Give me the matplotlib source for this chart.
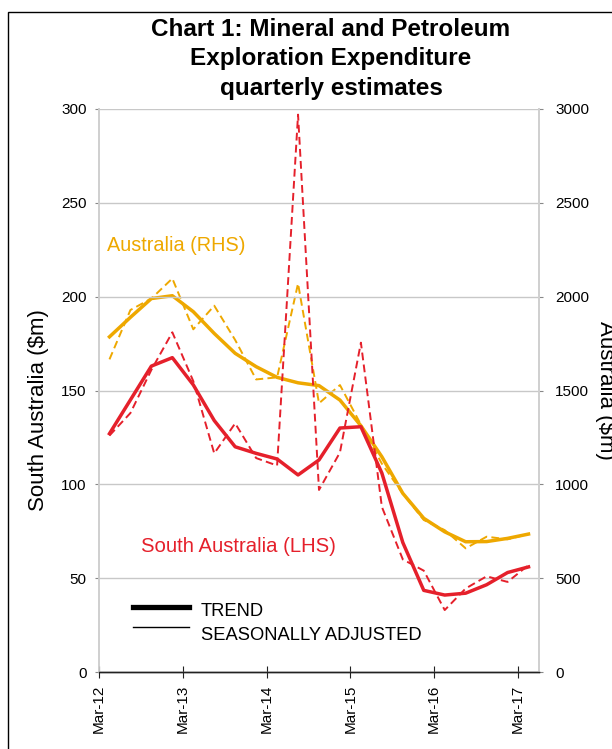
import matplotlib
matplotlib.use("Agg")
import matplotlib.pyplot as plt
from matplotlib.lines import Line2D
from matplotlib.patches import Rectangle

plt.rcParams['font.family'] = ['Liberation Sans', 'DejaVu Sans']

quarters = ["Mar-12", "Jun-12", "Sep-12", "Dec-12", "Mar-13", "Jun-13", "Sep-13", "Dec-13",
            "Mar-14", "Jun-14", "Sep-14", "Dec-14", "Mar-15", "Jun-15", "Sep-15", "Dec-15",
            "Mar-16", "Jun-16", "Sep-16", "Dec-16", "Mar-17"]
tick_labels = ["Mar-12", "Mar-13", "Mar-14", "Mar-15", "Mar-16", "Mar-17"]

sa_trend = [127, 145, 163, 167.5, 153, 134, 120, 116.5, 113.5, 105, 113, 130, 130.7,
            106, 69, 43.5, 41, 42, 46.5, 53, 56]
sa_sa = [126, 138, 161, 181, 155, 116.5, 132.5, 114, 110, 297, 97, 117, 175.5,
         88, 60, 54, 33, 44.5, 51, 48, 57]
aus_trend = [1786, 1890, 1990, 2005, 1920, 1804, 1698, 1627, 1570, 1541, 1526, 1449, 1312,
             1147, 952, 819, 747, 694, 695, 712, 735]
aus_sa = [1666, 1929, 1990, 2097, 1826, 1952, 1769, 1559, 1570, 2070, 1432, 1529, 1318,
          1110, 950, 810, 756, 659, 721, 707, 735]

RED = "#E5202B"
GOLD = "#EEA800"

W, H = 612, 749
fig = plt.figure(figsize=(W / 100, H / 100), dpi=100)

# outer border
fig.patches.append(Rectangle((8 / W, -0.05), 1.2, 1 - 12 / H + 0.05, transform=fig.transFigure,
                             fill=False, edgecolor="black", linewidth=1.0))

ax = fig.add_axes([99 / W, 1 - 672 / H, 440 / W, 563 / H])
ax2 = ax.twinx()

x = list(range(len(quarters)))

ax.plot(x, sa_trend, color=RED, lw=2.5, zorder=4)
ax.plot(x, sa_sa, color=RED, lw=1.4, ls=(0, (4, 2.2)), zorder=4)
ax2.plot(x, aus_trend, color=GOLD, lw=2.5, zorder=3)
ax2.plot(x, aus_sa, color=GOLD, lw=1.4, ls=(0, (4, 2.2)), zorder=3)

ax.set_zorder(ax2.get_zorder() + 1)
ax.patch.set_visible(False)

ax.set_xlim(-0.5, 20.5)
ax.set_ylim(0, 300)
ax2.set_ylim(0, 3000)
ax.set_yticks(range(0, 301, 50))
ax2.set_yticks(range(0, 3001, 500))
ax.set_xticks([-0.5, 3.5, 7.5, 11.5, 15.5, 19.5])
ax.set_xticklabels(tick_labels, rotation=90, fontsize=11)

ax.grid(axis="y", color="#C8C8C8", lw=1.0)
ax.set_axisbelow(True)

for a in (ax, ax2):
    a.spines["top"].set_visible(False)
    a.spines["left"].set_color("#D0D0D0")
    a.spines["right"].set_color("#D0D0D0")
    a.spines["left"].set_linewidth(1.3)
    a.spines["right"].set_linewidth(1.3)
    a.spines["bottom"].set_color("#222222")
    a.spines["bottom"].set_linewidth(1.0)

ax.tick_params(axis="y", labelsize=11, length=3, color="#888888", pad=6)
ax2.tick_params(axis="y", labelsize=11, length=3, color="#888888", pad=8.5)
ax.tick_params(axis="x", length=8, direction="inout", color="#222222", pad=5)

ax.set_ylabel("South Australia ($m)", fontsize=16, va="center")
ax.yaxis.set_label_coords(-0.1386, (672 - 410) / 563)
ax2.set_ylabel("Australia ($m)", fontsize=16, rotation=270, va="center")
ax2.yaxis.set_label_coords(1.152, 0.5)

for txt, yy in (("Chart 1: Mineral and Petroleum", 30),
                ("Exploration Expenditure", 59),
                ("quarterly estimates", 88)):
    fig.text(331 / W, 1 - yy / H, txt, ha="center", va="center",
             fontsize=17.5, fontweight="bold")

fig.text(107 / W, 1 - 246 / H, "Australia (RHS)", color=GOLD, fontsize=14.3, ha="left", va="center")
fig.text(141 / W, 1 - 547 / H, "South Australia (LHS)", color=RED, fontsize=14.6, ha="left", va="center")

# legend
fig.lines.append(Line2D([133 / W, 189 / W], [1 - 607 / H, 1 - 607 / H], transform=fig.transFigure,
                        color="black", lw=3.8))
fig.lines.append(Line2D([133 / W, 189 / W], [1 - 627 / H, 1 - 627 / H], transform=fig.transFigure,
                        color="black", lw=1.0))
fig.text(201 / W, 1 - 612 / H, "TREND", fontsize=13.2, ha="left", va="center")
fig.text(201 / W, 1 - 635 / H, "SEASONALLY ADJUSTED", fontsize=13.2, ha="left", va="center")

fig.savefig("out.png", dpi=100)
